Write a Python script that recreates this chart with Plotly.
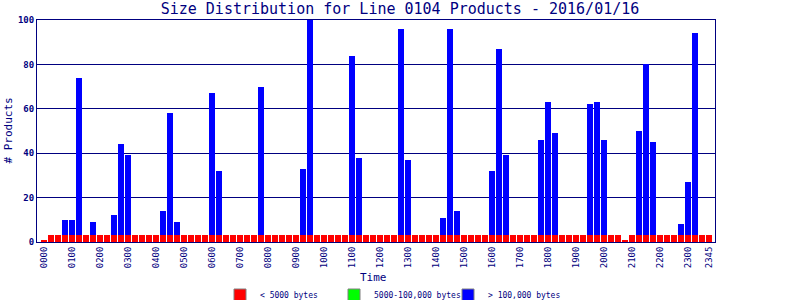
import plotly.graph_objects as go

# ---- data -------------------------------------------------------------
times = [f"{h:02d}{m:02d}" for h in range(24) for m in (0, 15, 30, 45)]
tick_labels = ["0000", "0100", "0200", "0300", "0400", "0500", "0600", "0700",
               "0800", "0900", "1000", "1100", "1200", "1300", "1400", "1500",
               "1600", "1700", "1800", "1900", "2000", "2100", "2200", "2300",
               "2345"]

# < 5000 bytes
small = [1, 3, 3, 3, 3, 3, 3, 3, 3, 3, 3, 3, 3, 3, 3, 3,
         3, 3, 3, 3, 3, 3, 3, 3, 3, 3, 3, 3, 3, 3, 3, 3,
         3, 3, 3, 3, 3, 3, 3, 3, 3, 3, 3, 3, 3, 3, 3, 3,
         3, 3, 3, 3, 3, 3, 3, 3, 3, 3, 3, 3, 3, 3, 3, 3,
         3, 3, 3, 3, 3, 3, 3, 3, 3, 3, 3, 3, 3, 3, 3, 3,
         3, 3, 3, 1, 3, 3, 3, 3, 3, 3, 3, 3, 3, 3, 3, 3]
# 5000-100,000 bytes
medium = [0] * 96
# > 100,000 bytes
large = [0, 0, 0, 7, 7, 71, 0, 6, 0, 0, 9, 41, 36, 0, 0, 0,
         0, 11, 55, 6, 0, 0, 0, 0, 64, 29, 0, 0, 0, 0, 0, 67,
         0, 0, 0, 0, 0, 30, 97, 0, 0, 0, 0, 0, 81, 35, 0, 0,
         0, 0, 0, 93, 34, 0, 0, 0, 0, 8, 93, 11, 0, 0, 0, 0,
         29, 84, 36, 0, 0, 0, 0, 43, 60, 46, 0, 0, 0, 0, 59, 60,
         43, 0, 0, 0, 0, 47, 77, 42, 0, 0, 0, 5, 24, 91, 0, 0]

series = [("< 5000 bytes", small, "#ff0000"),
          ("5000-100,000 bytes", medium, "#00ff00"),
          ("> 100,000 bytes", large, "#0000ff")]

NAVY = "#000080"
MONO = "DejaVu Sans Mono"

fig = go.Figure()
for name, vals, col in series:
    fig.add_trace(go.Bar(x=times, y=vals, name=name, showlegend=False,
                         marker=dict(color=col, line=dict(width=0))))
# legend entries (swatches with grey border)
for name, vals, col in series:
    fig.add_trace(go.Bar(x=[times[0]], y=[None], name=name, showlegend=True,
                         marker=dict(color=col, line=dict(color="#808080", width=1))))

fig.update_layout(
    width=800, height=300,
    margin=dict(l=37, r=85, t=20, b=58),
    paper_bgcolor="white", plot_bgcolor="white",
    barmode="stack", bargap=1/7,
    font=dict(family=MONO, color=NAVY),
    title=dict(text="Size Distribution for Line 0104 Products - 2016/01/16",
               x=0.5, xref="container", xanchor="center",
               y=1 - 9/300, yref="container", yanchor="middle",
               font=dict(family=MONO, size=15, color=NAVY)),
    xaxis=dict(type="category", categoryorder="array", categoryarray=times,
               range=[-1, 95.86], tickmode="array", tickvals=tick_labels,
               ticktext=tick_labels, tickangle=-90, ticks="",
               tickfont=dict(family=MONO, size=9, color=NAVY),
               showgrid=False, showline=True, linecolor=NAVY, linewidth=1,
               mirror=True, zeroline=False, fixedrange=True),
    yaxis=dict(range=[0, 100], tickmode="array", tickvals=[0, 20, 40, 60, 80, 100],
               ticks="", tickfont=dict(family=MONO, size=9, color=NAVY, weight="bold"),
               showgrid=True, gridcolor=NAVY, gridwidth=1,
               showline=True, linecolor=NAVY, linewidth=1, mirror=True,
               zeroline=False, fixedrange=True),
    showlegend=True,
    legend=dict(orientation="h", xref="container", yref="container",
                x=220/800, xanchor="left", y=1 - 295/300, yanchor="middle",
                traceorder="normal",
                entrywidth=69, entrywidthmode="pixels",
                font=dict(family=MONO, size=8, color=NAVY),
                bgcolor="rgba(0,0,0,0)", itemclick=False, itemdoubleclick=False),
    annotations=[
        dict(text="Time", xref="paper", yref="paper", x=0.5, y=0,
             yshift=-35, xshift=-3, showarrow=False, yanchor="middle",
             font=dict(family=MONO, size=11, color=NAVY)),
        dict(text="# Products", xref="paper", yref="paper", x=0, y=0.5,
             xshift=-29.5, showarrow=False, textangle=-90, xanchor="center",
             font=dict(family=MONO, size=11, color=NAVY)),
    ],
)

fig.write_html("out.html")
